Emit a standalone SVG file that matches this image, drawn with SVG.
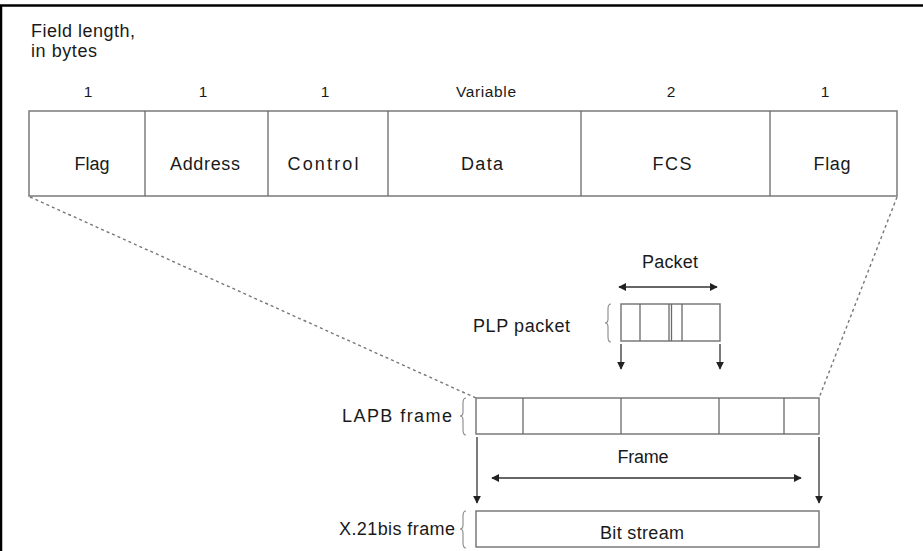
<svg xmlns="http://www.w3.org/2000/svg" width="923" height="551" viewBox="0 0 923 551">
<style>
text{font-family:"Liberation Sans",Arial,sans-serif;fill:#1a1a1a}
.t17{font-size:18px}
.t15{font-size:15.5px}
.m{text-anchor:middle}
.e{text-anchor:end}
.box{fill:#fff;stroke:#7a7a7a;stroke-width:1.5}
.div{stroke:#6a6a6a;stroke-width:1.3}
.dash{stroke:#777;stroke-width:1.4;stroke-dasharray:3 3;fill:none}
.arr{stroke:#333;stroke-width:1.3;fill:none}
.brace{stroke:#888;stroke-width:1.1;fill:none}
</style>
<defs>
<marker id="ah" viewBox="0 0 10 10" refX="9" refY="5" markerWidth="8" markerHeight="8" markerUnits="userSpaceOnUse" orient="auto-start-reverse">
<path d="M0,0 L10,5 L0,10 z" fill="#222"/>
</marker>
</defs>
<rect x="0" y="0" width="923" height="551" fill="#fff"/>
<line x1="0" y1="5.5" x2="923" y2="5.5" stroke="#000" stroke-width="2.5"/>
<line x1="1" y1="5" x2="1" y2="551" stroke="#000" stroke-width="2.5"/>

<g id="header">
<text class="t17" x="31" y="37" textLength="104">Field length,</text>
<text class="t17" x="31" y="57" textLength="66">in bytes</text>
</g>

<g id="frame-format">
<rect class="box" x="29" y="111" width="868" height="85"/>
<line class="div" x1="145" y1="111" x2="145" y2="196"/>
<line class="div" x1="268" y1="111" x2="268" y2="196"/>
<line class="div" x1="388" y1="111" x2="388" y2="196"/>
<line class="div" x1="581" y1="111" x2="581" y2="196"/>
<line class="div" x1="770" y1="111" x2="770" y2="196"/>
<text class="t15 m" x="88" y="97">1</text>
<text class="t15 m" x="203" y="97">1</text>
<text class="t15 m" x="325" y="97">1</text>
<text class="t15 m" x="486" y="97" textLength="60">Variable</text>
<text class="t15 m" x="671" y="97">2</text>
<text class="t15 m" x="825" y="97">1</text>
<text class="t17 m" x="92" y="170" textLength="35">Flag</text>
<text class="t17 m" x="205" y="170" textLength="70">Address</text>
<text class="t17 m" x="323" y="170" textLength="71">Control</text>
<text class="t17 m" x="482" y="170" textLength="42">Data</text>
<text class="t17 m" x="672" y="170" textLength="39">FCS</text>
<text class="t17 m" x="832" y="170" textLength="37">Flag</text>
</g>

<g id="plp-packet">
<rect class="box" x="621" y="304" width="99" height="37"/>
<line class="div" x1="640" y1="304" x2="640" y2="341"/>
<line class="div" x1="669" y1="304" x2="669" y2="341"/>
<line class="div" x1="671.5" y1="304" x2="671.5" y2="341"/>
<line class="div" x1="682" y1="304" x2="682" y2="341"/>
<text class="t17 e" x="570" y="332" textLength="97">PLP packet</text>
<path class="brace" d="M611,304 Q608,304 608,309 L608,319 Q608,323 605,323 Q608,323 608,327 L608,337 Q608,342 611,342"/>
<text class="t17 m" x="670" y="268" textLength="56">Packet</text>
</g>

<g id="lapb-frame">
<rect class="box" x="476" y="398" width="343" height="36"/>
<line class="div" x1="523" y1="398" x2="523" y2="434"/>
<line class="div" x1="621" y1="398" x2="621" y2="434"/>
<line class="div" x1="719" y1="398" x2="719" y2="434"/>
<line class="div" x1="784" y1="398" x2="784" y2="434"/>
<text class="t17 e" x="452" y="422" textLength="110">LAPB frame</text>
<path class="brace" d="M466,398 Q463,398 463,403 L463,412 Q463,416 460,416 Q463,416 463,420 L463,430 Q463,435 466,435"/>
<text class="t17 m" x="643" y="463" textLength="51">Frame</text>
</g>

<g id="x21bis-frame">
<rect class="box" x="476" y="511" width="343" height="36"/>
<text class="t17 e" x="455" y="535" textLength="116">X.21bis frame</text>
<path class="brace" d="M466,511 Q463,511 463,516 L463,525 Q463,529 460,529 Q463,529 463,533 L463,543 Q463,548 466,548"/>
<text class="t17 m" x="642" y="539" textLength="84">Bit stream</text>
</g>

<g id="connectors">
<line class="dash" x1="30" y1="197" x2="476" y2="398"/>
<line class="dash" x1="897" y1="197" x2="819" y2="398"/>
<line class="arr" x1="619" y1="287" x2="717" y2="287" marker-start="url(#ah)" marker-end="url(#ah)"/>
<line class="arr" x1="621" y1="344" x2="621" y2="369" marker-end="url(#ah)"/>
<line class="arr" x1="720" y1="344" x2="720" y2="369" marker-end="url(#ah)"/>
<line class="arr" x1="477" y1="437" x2="477" y2="503" marker-end="url(#ah)"/>
<line class="arr" x1="819" y1="437" x2="819" y2="503" marker-end="url(#ah)"/>
<line class="arr" x1="492" y1="478" x2="801" y2="478" marker-start="url(#ah)" marker-end="url(#ah)"/>
</g>
</svg>
